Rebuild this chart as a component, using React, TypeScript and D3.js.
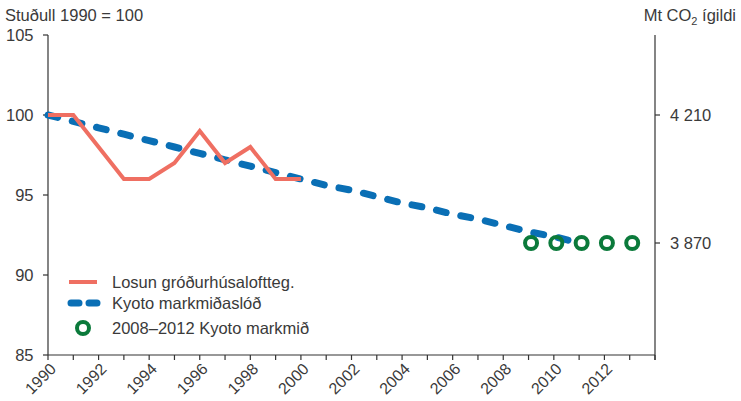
import React from "react";
import * as d3 from "d3";

const emissionYears = [1990, 1991, 1992, 1993, 1994, 1995, 1996, 1997, 1998, 1999, 2000];
const emissionValues = [100, 100, 98, 96, 96, 97, 99, 97, 98, 96, 96];

const pathYears = [1990, 1991, 1992, 1993, 1994, 1995, 1996, 1997, 1998, 1999, 2000, 2001, 2002, 2003, 2004, 2005, 2006, 2007, 2008, 2009, 2010, 2011];
const pathValues = [100, 99.6, 99.2, 98.8, 98.4, 98.0, 97.6, 97.2, 96.8, 96.4, 96.0, 95.6, 95.3, 94.9, 94.5, 94.2, 93.8, 93.5, 93.1, 92.7, 92.4, 92.0];

const targetYears = [2009, 2010, 2011, 2012, 2013];
const targetValues = [92, 92, 92, 92, 92];

const leftTicks = [85, 90, 95, 100, 105];
const rightTicks = [
  { value: 100, label: "4 210" },
  { value: 92, label: "3 870" },
];
const xTickYears = d3.range(1990, 2015);
const xLabelYears = d3.range(1990, 2013, 2);

const legendLabels = ["Losun gróðurhúsaloftteg.", "Kyoto markmiðaslóð", "2008–2012 Kyoto markmið"];

const W = 741;
const H = 401;
const left = 48;
const right = 655;
const top = 35;
const bottom = 355;

const RED = "#ef6f62";
const BLUE = "#0a6fb5";
const GREEN = "#0b7a3b";
const AXIS = "#333";
const TEXT = "#3a3a3a";
const FONT = "'Liberation Sans', Arial, sans-serif";
const FS = 16.5;

export default function App() {
  const x = d3.scaleLinear().domain([1990, 2014]).range([left, right]);
  const y = d3.scaleLinear().domain([85, 105]).range([bottom, top]);

  const redPath = d3
    .line<number>()
    .x((d, i) => x(emissionYears[i]))
    .y((d) => y(d))(emissionValues) as string;

  const bluePath = d3
    .line<number>()
    .x((d, i) => x(pathYears[i]))
    .y((d) => y(d))(pathValues) as string;

  return (
    <svg
      width={W}
      height={H}
      style={{ position: "absolute", left: 0, top: 0, background: "#fff" }}
      fontFamily={FONT}
    >
      {/* titles */}
      <text x={5} y={20.5} fontSize={FS} fill={TEXT}>
        Stuðull 1990 = 100
      </text>
      <text x={736} y={20.5} fontSize={FS} fill={TEXT} textAnchor="end">
        Mt CO<tspan fontSize={11} dy={4}>2</tspan>
        <tspan dy={-4}> ígildi</tspan>
      </text>

      {/* left axis */}
      <line x1={left} x2={left} y1={top} y2={bottom} stroke={AXIS} strokeWidth={1.2} />
      {leftTicks.map((t) => (
        <g key={t}>
          <line x1={left - 5} x2={left} y1={y(t)} y2={y(t)} stroke={AXIS} strokeWidth={1.2} />
          <text x={33.5} y={y(t)} dy="0.36em" fontSize={FS} fill={TEXT} textAnchor="end">
            {t}
          </text>
        </g>
      ))}

      {/* right axis */}
      <line x1={right} x2={right} y1={top} y2={bottom + 5} stroke={AXIS} strokeWidth={1.2} />
      {rightTicks.map((t) => (
        <g key={t.label}>
          <line x1={right} x2={right + 5} y1={y(t.value)} y2={y(t.value)} stroke={AXIS} strokeWidth={1.2} />
          <text x={670} y={y(t.value)} dy="0.36em" fontSize={FS} fill={TEXT}>
            {t.label}
          </text>
        </g>
      ))}

      {/* bottom axis */}
      <line x1={left} x2={right} y1={bottom} y2={bottom} stroke={AXIS} strokeWidth={1.2} />
      {xTickYears.map((yr) => (
        <line key={yr} x1={x(yr)} x2={x(yr)} y1={bottom} y2={bottom + 5} stroke={AXIS} strokeWidth={1.2} />
      ))}
      {xLabelYears.map((yr) => (
        <text
          key={yr}
          fontSize={16}
          fill={TEXT}
          textAnchor="end"
          transform={`translate(${x(yr) + 9},${bottom + 15}) rotate(-45)`}
        >
          {yr}
        </text>
      ))}

      {/* blue dashed path */}
      <path
        d={bluePath}
        fill="none"
        stroke={BLUE}
        strokeWidth={7}
        strokeDasharray="10 15"
        strokeLinecap="round"
      />

      {/* red line */}
      <path d={redPath} fill="none" stroke={RED} strokeWidth={4} strokeLinejoin="miter" />

      {/* green targets */}
      {targetValues.map((v, i) => (
        <circle key={i} cx={x(targetYears[i]) + 2.5} cy={y(v)} r={6} fill="none" stroke={GREEN} strokeWidth={4} />
      ))}

      {/* legend */}
      <line x1={69} x2={97} y1={282} y2={282} stroke={RED} strokeWidth={4} />
      <text x={112} y={282} dy="0.36em" fontSize={FS} fill={TEXT}>
        {legendLabels[0]}
      </text>
      <line
        x1={71}
        x2={97}
        y1={303}
        y2={303}
        stroke={BLUE}
        strokeWidth={7}
        strokeDasharray="8 10"
        strokeLinecap="round"
      />
      <text x={112} y={303} dy="0.36em" fontSize={FS} fill={TEXT}>
        {legendLabels[1]}
      </text>
      <circle cx={83} cy={328} r={6} fill="none" stroke={GREEN} strokeWidth={4} />
      <text x={112} y={328} dy="0.36em" fontSize={FS} fill={TEXT}>
        {legendLabels[2]}
      </text>
    </svg>
  );
}
